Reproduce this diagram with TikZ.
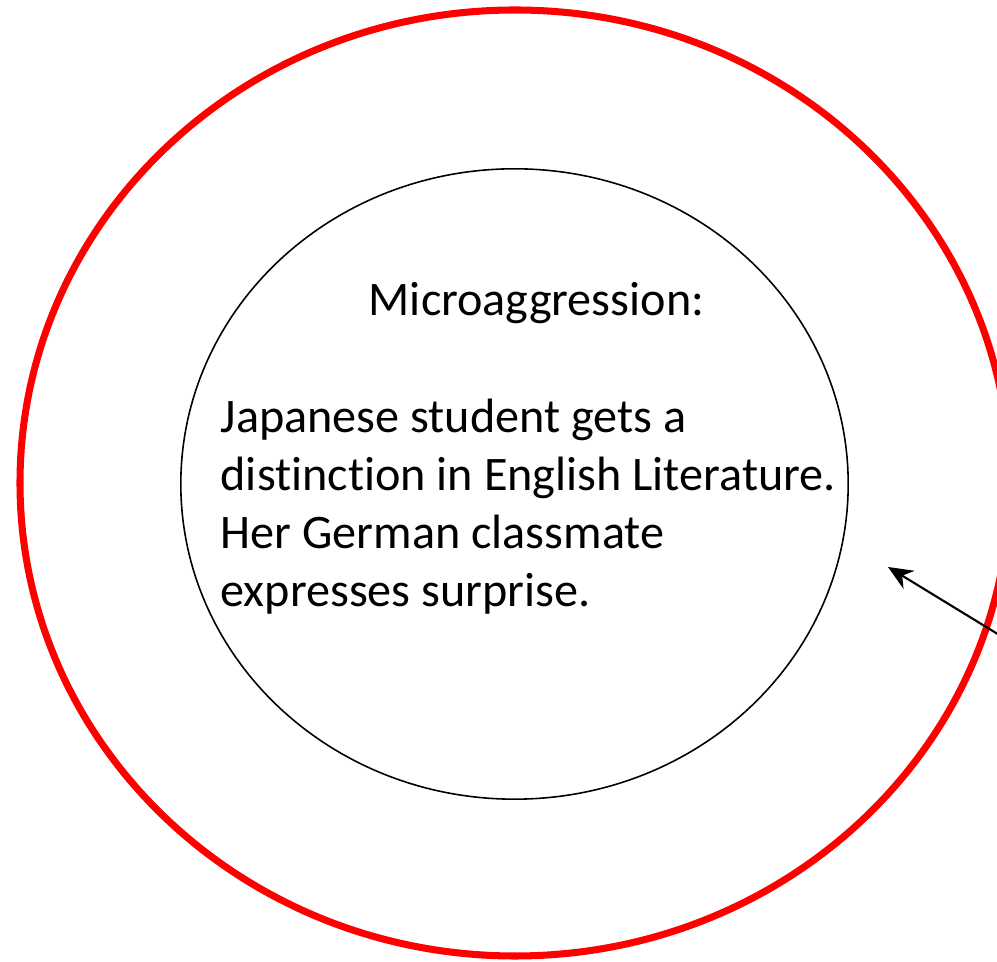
\documentclass[tikz,border=0pt]{standalone}
\usepackage{fontspec}
\setmainfont{Carlito}[Ligatures=NoCommon]
\usetikzlibrary{arrows.meta, shapes.geometric}
\definecolor{ring}{RGB}{255,0,0}

\begin{document}
\begin{tikzpicture}[x=0.01cm, y=-0.01cm, font=\fontsize{13.7}{16.5}\selectfont]
    \useasboundingbox (0,0) rectangle (997,962);
    \clip (0,0) rectangle (997,962);

    % Outer ring
    \draw[ring, line width=2pt] (515,483) ellipse [x radius=495, y radius=473];

    % Inner ellipse
    \node[draw, ellipse, line width=0.45pt, inner sep=0pt,
          minimum width=6.67cm, minimum height=6.3cm] (inner) at (514.5,484) {};

    % Labels
    \node[anchor=base, inner sep=0pt] (title) at (536.5,316) {Microaggression:};
    \node[anchor=north west, inner sep=0pt, align=left] (story) at (220,398)
        {Japanese student gets a\\
         distinction in English Literature.\\
         Her German classmate\\
         expresses surprise.};

    % Pointer
    \coordinate (tail) at (1050,666);
    \coordinate (tip) at (888,567);
    \draw[-{Stealth[length=7pt, width=6pt]}, line width=0.6pt] (tail) -- (tip);

\end{tikzpicture}
\end{document}
